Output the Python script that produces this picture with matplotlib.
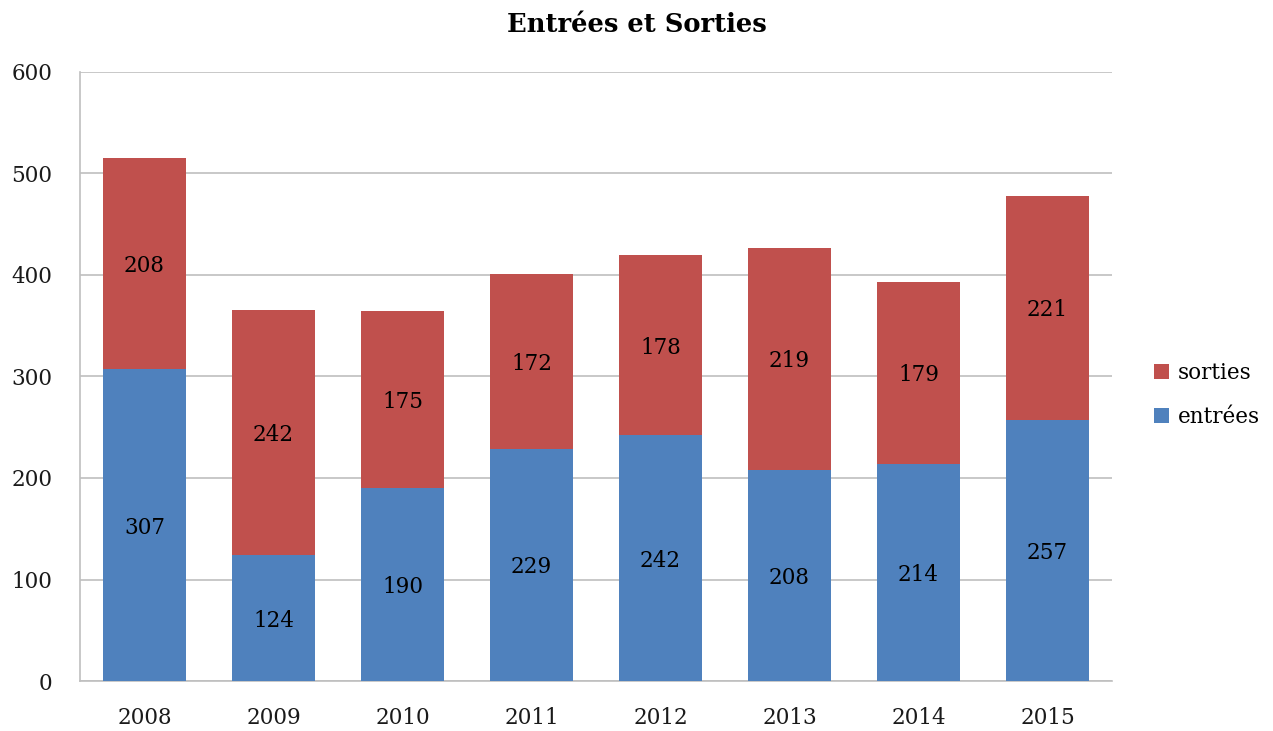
import matplotlib
matplotlib.use("Agg")
import matplotlib.pyplot as plt
import numpy as np

years = ["2008", "2009", "2010", "2011", "2012", "2013", "2014", "2015"]
entrees = [307, 124, 190, 229, 242, 208, 214, 257]
sorties = [208, 242, 175, 172, 178, 219, 179, 221]

plt.rcParams['font.family'] = ['DejaVu Serif']

fig = plt.figure(figsize=(12.73, 7.31), dpi=100)
ax = fig.add_axes([80/1273, 50/731, 1032/1273, 609/731])

blue = "#4F81BD"
red = "#C0504D"
x = np.arange(len(years))
w = 0.645
b1 = ax.bar(x, entrees, w, color=blue, label="entrées", zorder=3)
b2 = ax.bar(x, sorties, w, bottom=entrees, color=red, label="sorties", zorder=3)

for i in range(len(years)):
    ax.text(x[i], entrees[i] / 2, str(entrees[i]), ha="center", va="center_baseline", fontsize=15.5, zorder=4)
    ax.text(x[i], entrees[i] + sorties[i] / 2, str(sorties[i]), ha="center", va="center_baseline", fontsize=15.5, zorder=4)

ax.set_xlim(-0.5, len(years) - 0.5)
ax.set_ylim(0, 600)
ax.set_yticks(range(0, 601, 100))
ax.set_xticks(x)
ax.set_xticklabels(years)
ax.tick_params(axis="both", length=0, labelsize=15.5, colors="#1a1a1a")
ax.tick_params(axis="x", pad=19)
ax.tick_params(axis="y", pad=20)
ax.yaxis.grid(True, color="#BFBFBF", linewidth=1.2, zorder=0)
for s in ["top", "right"]:
    ax.spines[s].set_visible(False)
for s in ["left", "bottom"]:
    ax.spines[s].set_color("#BFBFBF")
    ax.spines[s].set_linewidth(1.2)

fig.text(637/1273, 1 - 25/731, "Entrées et Sorties", ha="center", va="center",
         fontsize=18.5, fontweight="bold")

handles = [b2, b1]
leg = fig.legend(handles, ["sorties", "entrées"], loc="center left",
                 bbox_to_anchor=(1135/1273, 1 - 395/731), frameon=False,
                 fontsize=15.5, handlelength=0.7, handleheight=0.7,
                 handletextpad=0.4, labelspacing=1.0)

fig.savefig("out.png", dpi=100)
